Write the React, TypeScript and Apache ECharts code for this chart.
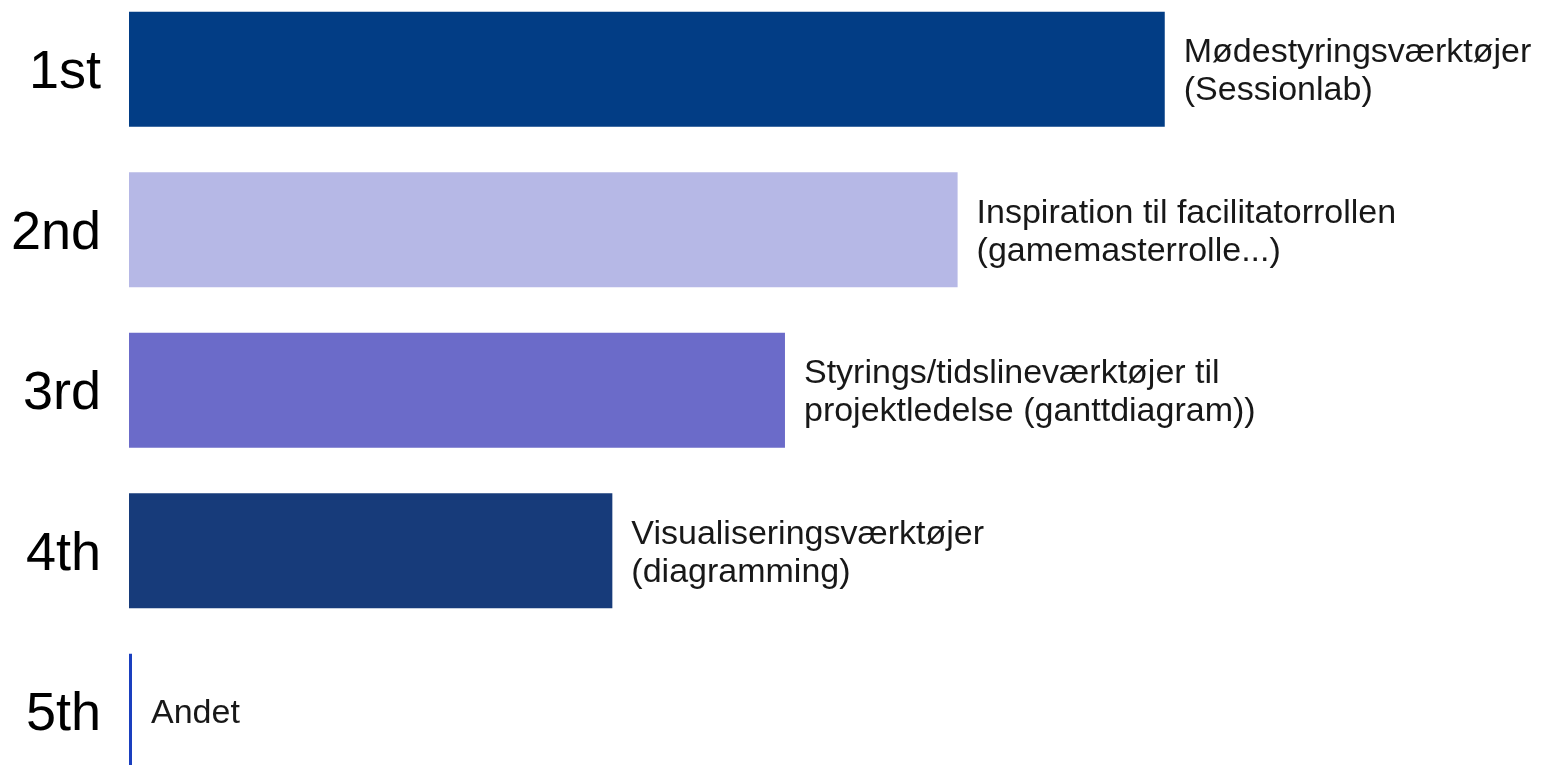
import React, { useEffect, useRef } from "react";
import * as echarts from "echarts";

const ranks = ["1st", "2nd", "3rd", "4th", "5th"];
const itemLabels = [
  "Mødestyringsværktøjer\n(Sessionlab)",
  "Inspiration til facilitatorrollen\n(gamemasterrolle...)",
  "Styrings/tidslineværktøjer til\nprojektledelse (ganttdiagram))",
  "Visualiseringsværktøjer\n(diagramming)",
  "Andet",
];
const scores = [30, 24, 19, 14, 0];
const barColors = ["#023d85", "#b6b8e6", "#6b6bc9", "#173b7a", "#1a3fbf"];

export default function App() {
  const ref = useRef<HTMLDivElement>(null);
  useEffect(() => {
    document.body.style.margin = "0";
    document.body.style.overflow = "hidden";
    const chart = echarts.init(ref.current!, undefined, { renderer: "svg" });
    chart.setOption({
      animation: false,
      grid: { left: 129, top: 0, width: 1381, height: 802.5 },
      xAxis: {
        type: "value",
        min: 0,
        max: 40,
        show: false,
      },
      yAxis: {
        type: "category",
        data: ranks,
        inverse: true,
        axisLine: { show: false },
        axisTick: { show: false },
        axisLabel: {
          fontFamily: "Liberation Sans",
          fontSize: 54,
          color: "#000",
          margin: 28,
        },
      },
      series: [
        {
          type: "bar",
          barWidth: 115,
          barMinHeight: 3,
          data: scores.map((v, i) => ({
            value: v,
            itemStyle: { color: barColors[i] },
            label: { formatter: itemLabels[i] },
          })),
          label: {
            show: true,
            position: "right",
            distance: 19,
            fontFamily: "Liberation Sans",
            fontSize: 34,
            lineHeight: 38,
            color: "#181818",
          },
        },
      ],
    });
    return () => chart.dispose();
  }, []);
  return (
    <div
      ref={ref}
      style={{ position: "fixed", left: 0, top: -11, width: 1544, height: 820 }}
    />
  );
}
